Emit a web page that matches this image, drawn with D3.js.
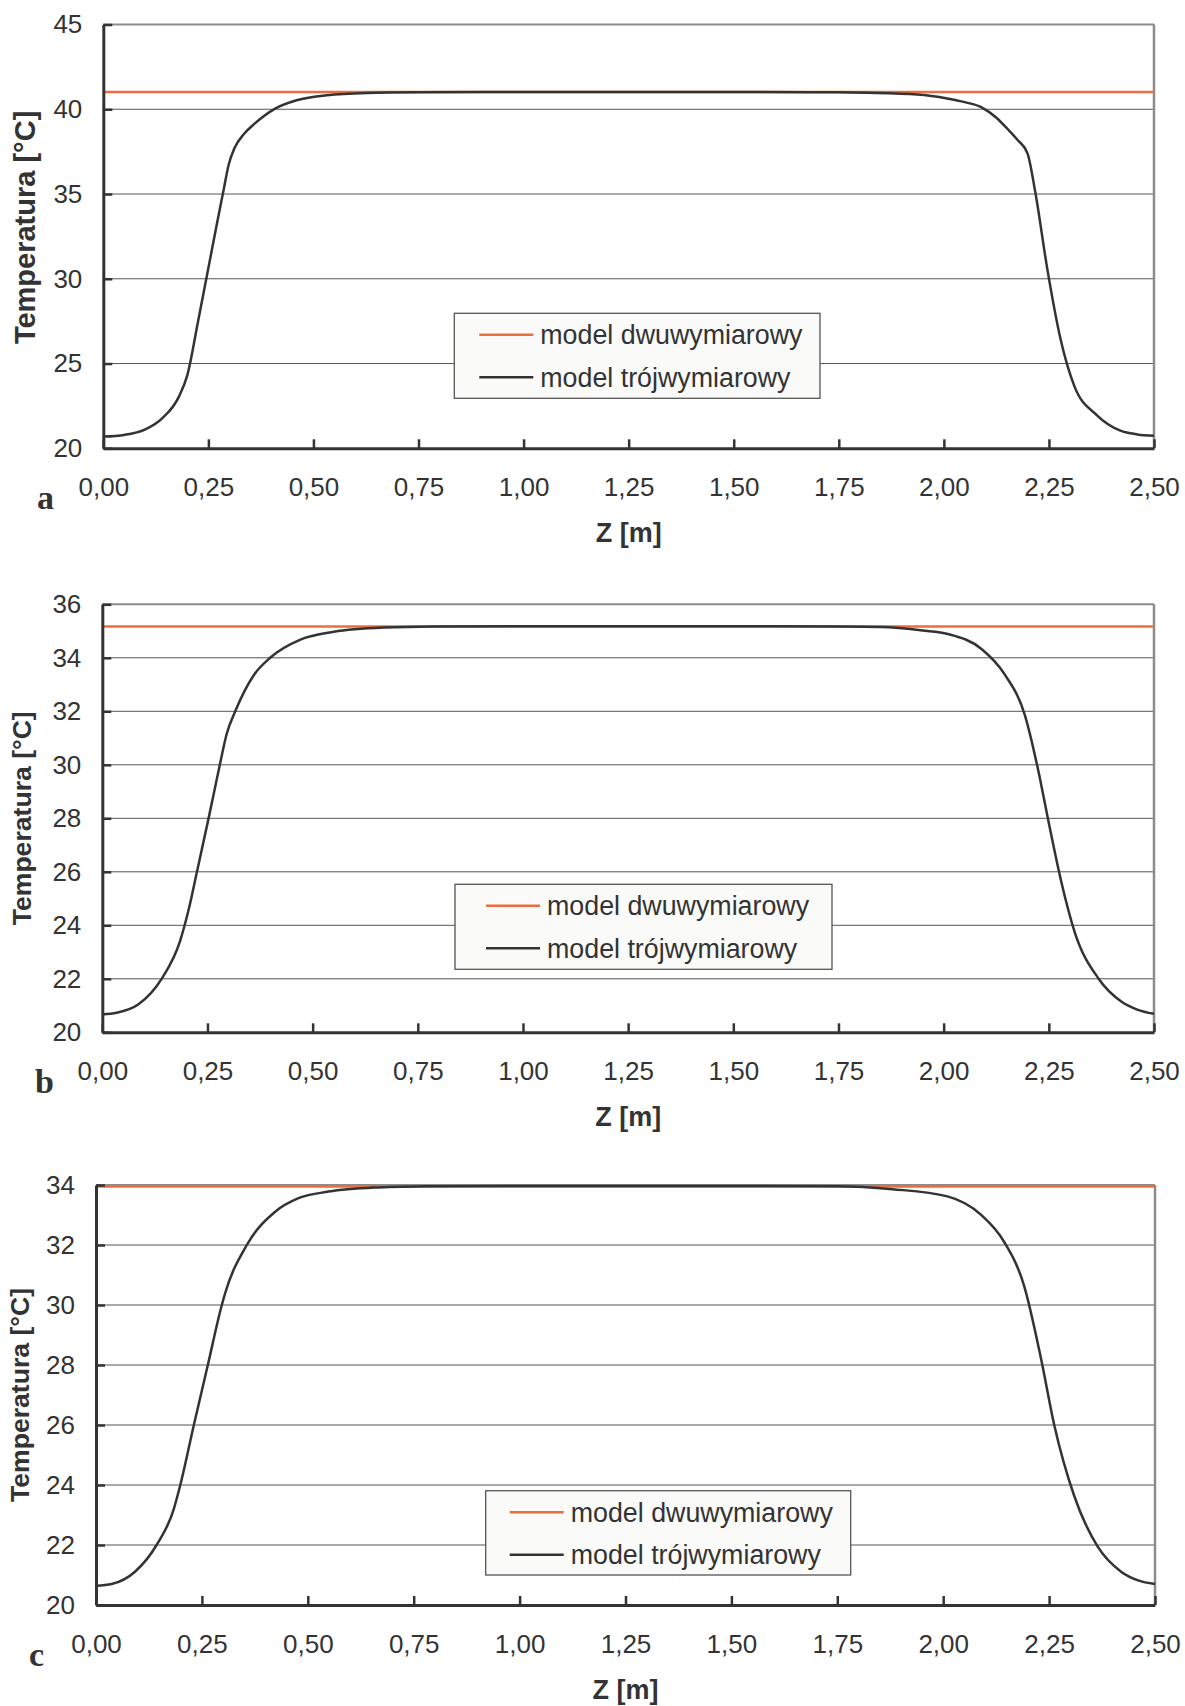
<!DOCTYPE html>
<html>
<head>
<meta charset="utf-8">
<script src="https://cdn.jsdelivr.net/npm/d3@7"></script>
<style>
    body { margin: 0; background: #fff; }
    text { font-family: "Liberation Sans", Arial, sans-serif; fill: #333; }
</style>
</head>
<body>
<div id="chart"></div>
<script>
// shared
const zTicks = [0, 0.25, 0.5, 0.75, 1.0, 1.25, 1.5, 1.75, 2.0, 2.25, 2.5];
const seriesNames = ["model dwuwymiarowy", "model trójwymiarowy"];

// panel a
const yTicksA = [20, 25, 30, 35, 40, 45];
const twoDA = 41.02;
const zA = [0, 0.05, 0.10, 0.14, 0.18, 0.20, 0.226, 0.246, 0.27, 0.286, 0.298, 0.312, 0.335, 0.36, 0.409, 0.46, 0.532, 0.627, 0.746,
    1.0, 1.25, 1.5, 1.75, 1.818, 1.937, 2.008, 2.05, 2.091, 2.125, 2.151, 2.175, 2.199, 2.218, 2.246, 2.278, 2.31, 2.365, 2.42, 2.46, 2.5];
const tempA = [20.69, 20.79, 21.12, 21.77, 23.05, 24.32, 27.56, 30.12, 33.2, 35.2, 36.7, 37.7, 38.55, 39.15, 40.04, 40.53, 40.83, 40.96, 41.0,
    41.02, 41.02, 41.02, 41.0, 40.97, 40.87, 40.64, 40.42, 40.1, 39.5, 38.85, 38.2, 37.4, 35.04, 30.6, 26.4, 23.7, 21.93, 21.04, 20.82, 20.74];

// panel b
const yTicksB = [20, 22, 24, 26, 28, 30, 32, 34, 36];
const twoDB = 35.17;
const zB = [0, 0.034, 0.086, 0.141, 0.185, 0.205, 0.225, 0.254, 0.278, 0.296, 0.316, 0.36, 0.399, 0.471, 0.55, 0.669, 0.788,
    1.0, 1.25, 1.5, 1.75, 1.85, 1.95, 2.01, 2.09, 2.145, 2.193, 2.225, 2.249, 2.28, 2.312, 2.368, 2.423, 2.46, 2.5];
const tempB = [20.67, 20.73, 21.05, 22.0, 23.42, 24.57, 26.0, 28.1, 29.9, 31.17, 32.0, 33.35, 34.0, 34.68, 34.97, 35.13, 35.17,
    35.18, 35.18, 35.18, 35.17, 35.15, 35.02, 34.89, 34.33, 33.38, 31.86, 29.78, 27.9, 25.6, 23.72, 22.01, 21.14, 20.85, 20.69];

// panel c
const yTicksC = [20, 22, 24, 26, 28, 30, 32, 34];
const twoDC = 33.95;
const zC = [0, 0.037, 0.092, 0.143, 0.183, 0.199, 0.231, 0.264, 0.297, 0.305, 0.356, 0.423, 0.478, 0.549, 0.667, 0.786,
    1.0, 1.25, 1.5, 1.75, 1.88, 2.01, 2.089, 2.144, 2.191, 2.231, 2.262, 2.309, 2.364, 2.42, 2.46, 2.5];
const tempC = [20.64, 20.7, 21.11, 22.0, 23.17, 24.0, 26.0, 28.0, 30.0, 30.4, 32.0, 33.11, 33.56, 33.78, 33.92, 33.96,
    33.97, 33.97, 33.97, 33.96, 33.86, 33.62, 33.01, 32.1, 30.64, 28.21, 26.01, 23.65, 21.96, 21.11, 20.82, 20.7];

// layout of each panel
let panels = [
    {tag: "a", z: zA, temp: tempA, twoD: twoDA, yTicks: yTicksA,
        left: 103.3, right: 1154, top: 24.5, bottom: 448.3,
        titleX: 35, titleDy: -9, titleSize: 29, tagX: 37,
        legend: {x: 454.3, y: 313.3, w: 365.7, h: 85, pad: 25}},
    {tag: "b", z: zB, temp: tempB, twoD: twoDB, yTicks: yTicksB,
        left: 102.3, right: 1154, top: 604.3, bottom: 1032.3,
        titleX: 31, titleDy: 0, titleSize: 26.6, tagX: 35,
        legend: {x: 455, y: 884.3, w: 377, h: 85, pad: 31}},
    {tag: "c", z: zC, temp: tempC, twoD: twoDC, yTicks: yTicksC,
        left: 96, right: 1155, top: 1185, bottom: 1605,
        titleX: 29, titleDy: 0, titleSize: 26.6, tagX: 29,
        legend: {x: 485.7, y: 1490.7, w: 365, h: 84.3, pad: 24}}
];

let svg = d3.select("#chart").append("svg")
    .attr("width", 1185)
    .attr("height", 1706);

let fmt = d => d.toFixed(2).replace(".", ",");

panels.forEach(p => {
    let g = svg.append("g");
    let yMax = d3.max(p.yTicks);

    let x = d3.scaleLinear().domain([0, 2.5]).range([p.left, p.right]);
    let y = d3.scaleLinear().domain([20, yMax]).range([p.bottom, p.top]);

    // gridlines
    g.selectAll(".grid")
        .data(p.yTicks.filter(v => v > 20))
        .enter().append("line")
        .attr("class", "grid")
        .attr("x1", p.left).attr("x2", p.right)
        .attr("y1", d => y(d)).attr("y2", d => y(d))
        .attr("stroke", d => d === yMax ? "#8c8c8c" : "#555")
        .attr("stroke-width", d => d === yMax ? 2 : 1);

    // right border
    g.append("line")
        .attr("x1", p.right).attr("x2", p.right)
        .attr("y1", p.top).attr("y2", p.bottom)
        .attr("stroke", "#8c8c8c")
        .attr("stroke-width", 2.5);

    // 2D model
    g.append("line")
        .attr("x1", x(0)).attr("x2", x(2.5))
        .attr("y1", y(p.twoD)).attr("y2", y(p.twoD))
        .attr("stroke", "#ee6d3f")
        .attr("stroke-width", 2.5);

    // 3D model
    let line = d3.line()
        .x((d, i) => x(p.z[i]))
        .y(d => y(d))
        .curve(d3.curveMonotoneX);

    g.append("path")
        .datum(p.temp)
        .attr("d", line)
        .attr("fill", "none")
        .attr("stroke", "#333")
        .attr("stroke-width", 2.5);

    // axes
    let yAxis = d3.axisLeft(y).tickValues(p.yTicks).tickSize(-9).tickSizeOuter(0).tickPadding(21);
    let xAxis = d3.axisBottom(x).tickValues(zTicks).tickSize(-9).tickSizeOuter(0).tickPadding(29.5).tickFormat(fmt);

    let ya = g.append("g").attr("transform", `translate(${p.left},0)`).call(yAxis);
    let xa = g.append("g").attr("transform", `translate(0,${p.bottom})`).call(xAxis);

    [ya, xa].forEach(a => {
        a.select(".domain").attr("stroke", "#333").attr("stroke-width", 3);
        a.selectAll(".tick line").attr("stroke", "#333").attr("stroke-width", 2.5);
        a.selectAll(".tick text").attr("font-size", 26).attr("fill", "#333")
            .attr("font-family", "'Liberation Sans', Arial, sans-serif");
    });

    // axis titles
    g.append("text")
        .attr("transform", `translate(${p.titleX},${(p.top + p.bottom) / 2 + p.titleDy}) rotate(-90)`)
        .attr("text-anchor", "middle")
        .attr("font-size", p.titleSize)
        .attr("font-weight", "bold")
        .text("Temperatura [°C]");

    g.append("text")
        .attr("x", (p.left + p.right) / 2)
        .attr("y", p.bottom + 94)
        .attr("text-anchor", "middle")
        .attr("font-size", 27)
        .attr("font-weight", "bold")
        .text("Z [m]");

    // panel letter
    g.append("text")
        .attr("x", p.tagX)
        .attr("y", p.bottom + 61)
        .attr("font-size", 34)
        .attr("font-weight", "bold")
        .style("font-family", "'Liberation Serif', 'Times New Roman', serif")
        .text(p.tag);

    // legend
    let L = p.legend;
    let lg = g.append("g").attr("transform", `translate(${L.x},${L.y})`);
    lg.append("rect")
        .attr("width", L.w).attr("height", L.h)
        .attr("fill", "#fafaf8")
        .attr("stroke", "#555")
        .attr("stroke-width", 1.3);

    let rows = [
        {name: seriesNames[0], color: "#ee6d3f", dy: 21.5},
        {name: seriesNames[1], color: "#333", dy: 64}
    ];
    lg.selectAll(".lline")
        .data(rows)
        .enter().append("line")
        .attr("x1", L.pad).attr("x2", L.pad + 54)
        .attr("y1", d => d.dy).attr("y2", d => d.dy)
        .attr("stroke", d => d.color)
        .attr("stroke-width", 2.5);
    lg.selectAll(".ltext")
        .data(rows)
        .enter().append("text")
        .attr("x", L.pad + 61)
        .attr("y", d => d.dy + 9.5)
        .attr("font-size", 26.8)
        .text(d => d.name);
});
</script>
</body>
</html>
